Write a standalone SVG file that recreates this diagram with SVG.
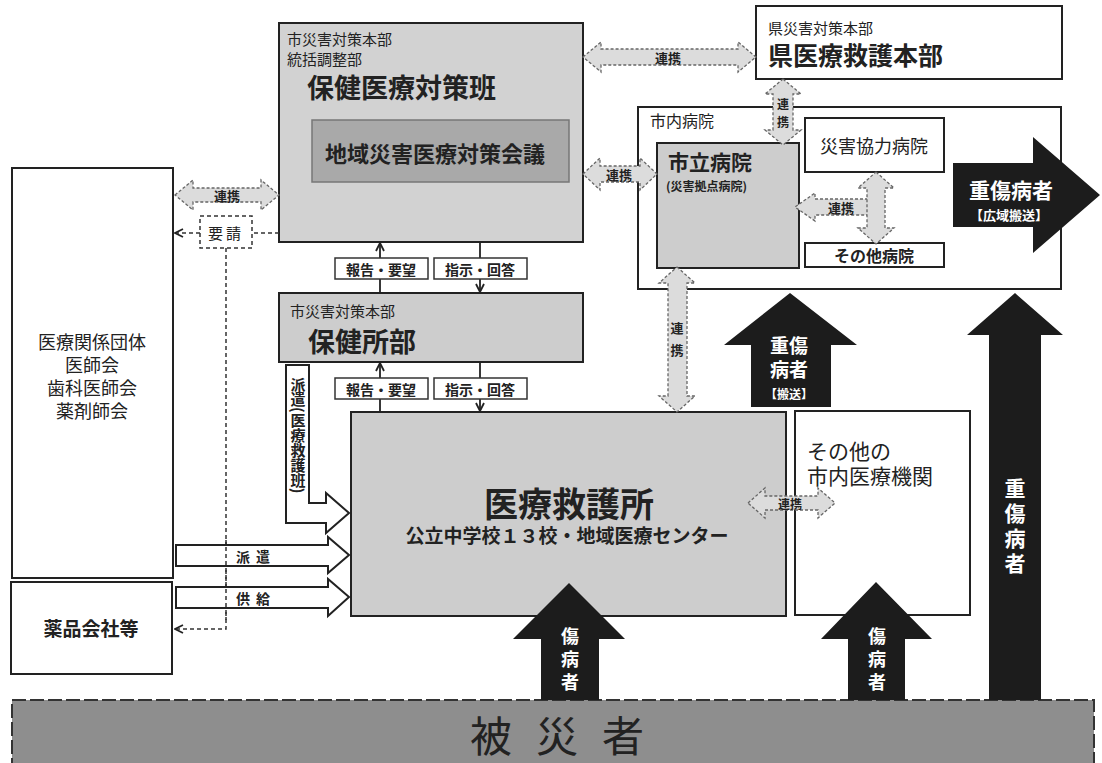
<svg xmlns="http://www.w3.org/2000/svg" width="1102" height="763" viewBox="0 0 1102 763">
<style>
.t{font-family:"Noto Sans CJK JP","Noto Sans",sans-serif;fill:#222;dominant-baseline:central}
.b{font-weight:700}
.w{fill:#fff}
.m{text-anchor:middle}
.box{fill:#fff;stroke:#222;stroke-width:2}
.gray{fill:#cdcdcd;stroke:#222;stroke-width:2}
.dbl{fill:#dcdcdc;stroke:#666;stroke-width:1.3;stroke-dasharray:3 2}
.blk{fill:#1c1c1c}
.wa{fill:#fff;stroke:#222;stroke-width:2}
.ln{fill:none;stroke:#222;stroke-width:1.8}
.dash{fill:none;stroke:#333;stroke-width:1.5;stroke-dasharray:4 3}
.lbl{fill:#fff;stroke:#333;stroke-width:1.5}
</style>
<defs>
<marker id="v" viewBox="0 0 10 10" refX="9" refY="5" markerUnits="userSpaceOnUse" markerWidth="10" markerHeight="10" orient="auto-start-reverse">
<path d="M1 1 L9 5 L1 9" fill="none" stroke="#222" stroke-width="1.8"/>
</marker>
</defs>
<rect width="1102" height="763" fill="#fff"/>

<g id="hisaisha">
<rect x="12" y="700" width="1082" height="70" fill="#8e8e8e" stroke="#333" stroke-width="2" stroke-dasharray="14 4"/>
<text class="t m" x="491 557 623" y="733" font-size="42" fill="#1e1e1e">被災者</text>
</g>
<g id="hoken-iryo">
<rect x="279" y="23" width="304" height="219" fill="#d2d2d2" stroke="#222" stroke-width="2"/>
<text class="t" x="287" y="38" font-size="15">市災害対策本部</text>
<text class="t" x="287" y="58" font-size="15">統括調整部</text>
<text class="t b" x="307" y="86" font-size="27">保健医療対策班</text>
</g>
<g id="chiiki-kaigi">
<rect x="312" y="120" width="257" height="62" fill="#a9a9a9" stroke="#777" stroke-width="1.5"/>
<text class="t b" x="325" y="152" font-size="22">地域災害医療対策会議</text>
</g>
<g id="iryo-dantai">
<rect class="box" x="12" y="168" width="161" height="410"/>
<text class="t m" x="92" y="341" font-size="18">医療関係団体</text>
<text class="t m" x="92" y="364" font-size="18">医師会</text>
<text class="t m" x="92" y="387" font-size="18">歯科医師会</text>
<text class="t m" x="92" y="410" font-size="18">薬剤師会</text>
</g>
<g id="yakuhin">
<rect class="box" x="11" y="582" width="161" height="92"/>
<text class="t b m" x="91" y="627" font-size="19">薬品会社等</text>
</g>
<g id="yousei">
<rect x="200" y="216" width="52" height="32" fill="#fff" stroke="#333" stroke-width="1.5" stroke-dasharray="4 3"/>
<text class="t m" x="226" y="232" font-size="15" letter-spacing="3">要請</text>
</g>
<g id="hokenjo">
<rect class="gray" x="279" y="293" width="304" height="69"/>
<text class="t" x="290" y="310" font-size="15">市災害対策本部</text>
<text class="t b" x="308" y="340" font-size="27">保健所部</text>
</g>
<g id="kyugosho">
<rect class="gray" x="351" y="412" width="435" height="204"/>
<text class="t b m" x="569" y="502" font-size="34">医療救護所</text>
<text class="t b m" x="567" y="534" font-size="19">公立中学校１３校・地域医療センター</text>
</g>
<g id="ken-honbu">
<rect class="box" x="756" y="6" width="306" height="73"/>
<text class="t" x="768" y="27" font-size="15">県災害対策本部</text>
<text class="t b" x="768" y="54" font-size="25">県医療救護本部</text>
</g>
<g id="shinai-byoin">
<rect x="638" y="107" width="423" height="182" fill="none" stroke="#222" stroke-width="2"/>
<text class="t" x="650" y="120" font-size="16">市内病院</text>
</g>
<g id="shiritsu-byoin">
<rect class="gray" x="657" y="143" width="142" height="125"/>
<text class="t b" x="668" y="161" font-size="21">市立病院</text>
<text class="t b" x="666" y="185" font-size="12">(災害拠点病院)</text>
</g>
<g id="kyoryoku-byoin">
<rect class="box" x="805" y="118" width="139" height="54"/>
<text class="t m" x="874" y="145" font-size="18">災害協力病院</text>
</g>
<g id="sonota-byoin">
<rect class="box" x="805" y="243" width="139" height="24"/>
<text class="t b m" x="874" y="255" font-size="16">その他病院</text>
</g>
<g id="sonota-kikan">
<rect class="box" x="795" y="411" width="175" height="204"/>
<text class="t" x="807" y="450" font-size="21">その他の</text>
<text class="t" x="807" y="475" font-size="21">市内医療機関</text>
</g>

<g id="connectors">
<path class="dash" d="M279 233 L252 233"/>
<path class="dash" d="M200 233 L175 233" marker-end="url(#v)"/>
<path class="dash" d="M226 248 L226 629 L175 629" marker-end="url(#v)"/>
<path class="ln" d="M380 293 L380 243" marker-end="url(#v)"/>
<path class="ln" d="M480 242 L480 292" marker-end="url(#v)"/>
<path class="ln" d="M380 412 L380 363" marker-end="url(#v)"/>
<path class="ln" d="M480 362 L480 411" marker-end="url(#v)"/>
<rect class="lbl" x="335" y="258" width="93" height="21"/>
<text class="t b m" x="381" y="268.5" font-size="14">報告・要望</text>
<rect class="lbl" x="434" y="258" width="93" height="21"/>
<text class="t b m" x="480" y="268.5" font-size="14">指示・回答</text>
<rect class="lbl" x="335" y="378" width="93" height="21"/>
<text class="t b m" x="381" y="388.5" font-size="14">報告・要望</text>
<rect class="lbl" x="434" y="378" width="93" height="21"/>
<text class="t b m" x="480" y="388.5" font-size="14">指示・回答</text>
<path class="wa" d="M286 365 L309 365 L309 503 L326 503 L326 493 L349 513 L326 533 L326 523 L286 523 Z"/>
<text class="t b" x="298" y="377" font-size="15" style="writing-mode:vertical-rl">派遣(医療救護班)</text>
<path class="wa" d="M176 545 L328 545 L328 537 L349 555 L328 573 L328 566 L176 566 Z"/>
<text class="t b m" x="256" y="556" font-size="14" letter-spacing="6">派遣</text>
<path class="wa" d="M176 587 L328 587 L328 579 L349 597 L328 616 L328 608 L176 608 Z"/>
<text class="t b m" x="256" y="598" font-size="14" letter-spacing="6">供給</text>
<path class="dash" d="M226 540 L226 620"/>
<path class="dbl" d="M175 195 L193 180 L193 188 L261 188 L261 180 L279 195 L261 210 L261 202 L193 202 L193 210 Z"/>
<text class="t b m" x="227" y="195" font-size="13">連携</text>
<path class="dbl" d="M583 57 L601 42 L601 49 L738 49 L738 42 L756 57 L738 72 L738 65 L601 65 L601 72 Z"/>
<text class="t b m" x="668" y="57" font-size="13">連携</text>
<path class="dbl" d="M583 174 L600 158 L600 166 L640 166 L640 158 L657 174 L640 190 L640 182 L600 182 L600 190 Z"/>
<text class="t b m" x="619" y="174" font-size="13">連携</text>
<path class="dbl" d="M783 79 L801 94 L793 94 L793 130 L801 130 L783 145 L765 130 L773 130 L773 94 L765 94 Z"/>
<text class="t b m" x="783" y="103" font-size="12">連</text>
<text class="t b m" x="783" y="121" font-size="12">携</text>
<path class="dbl" d="M677 267 L695 283 L687 283 L687 396 L695 396 L677 412 L659 396 L668 396 L668 283 L659 283 Z"/>
<text class="t b m" x="677" y="327" font-size="13">連</text>
<text class="t b m" x="677" y="349" font-size="13">携</text>
<path class="dbl" d="M748 503 L765 488 L765 496 L818 496 L818 488 L835 503 L818 518 L818 510 L765 510 L765 518 Z"/>
<text class="t b m" x="790" y="503" font-size="12">連携</text>
<path class="dbl" d="M868 199 L815 199 L815 193 L795 207 L815 221 L815 215 L868 215"/>
<path class="dbl" d="M876 172 L894 188 L885 188 L885 228 L894 228 L876 244 L858 228 L867 228 L867 188 L858 188 Z"/>
<text class="t b m" x="841" y="207" font-size="13">連携</text>
<path class="blk" d="M953 163 L1033 163 L1033 137 L1100 195 L1033 253 L1033 227 L953 227 Z"/>
<text class="t b m w" x="1011" y="189" font-size="21">重傷病者</text>
<text class="t b m w" x="1009" y="214" font-size="13">【広域搬送】</text>
<path class="blk" d="M751 407 L751 345 L724 345 L790 293 L857 345 L831 345 L831 407 Z"/>
<text class="t b m w" x="789" y="344" font-size="19">重傷</text>
<text class="t b m w" x="789" y="368" font-size="19">病者</text>
<text class="t b m w" x="789" y="393" font-size="12">【搬送】</text>
<path class="blk" d="M989 700 L989 335 L967 335 L1015 293 L1063 335 L1041 335 L1041 700 Z"/>
<text class="t b m w" x="1015" y="487" font-size="21">重</text>
<text class="t b m w" x="1015" y="512" font-size="21">傷</text>
<text class="t b m w" x="1015" y="537" font-size="21">病</text>
<text class="t b m w" x="1015" y="562" font-size="21">者</text>
<path class="blk" d="M541 700 L541 639 L513 639 L569 583 L625 639 L599 639 L599 700 Z"/>
<text class="t b m w" x="570" y="635" font-size="18">傷</text>
<text class="t b m w" x="570" y="658" font-size="18">病</text>
<text class="t b m w" x="570" y="681" font-size="18">者</text>
<path class="blk" d="M848 700 L848 639 L821 639 L876 582 L932 639 L905 639 L905 700 Z"/>
<text class="t b m w" x="877" y="635" font-size="18">傷</text>
<text class="t b m w" x="877" y="658" font-size="18">病</text>
<text class="t b m w" x="877" y="681" font-size="18">者</text>
</g>
</svg>
